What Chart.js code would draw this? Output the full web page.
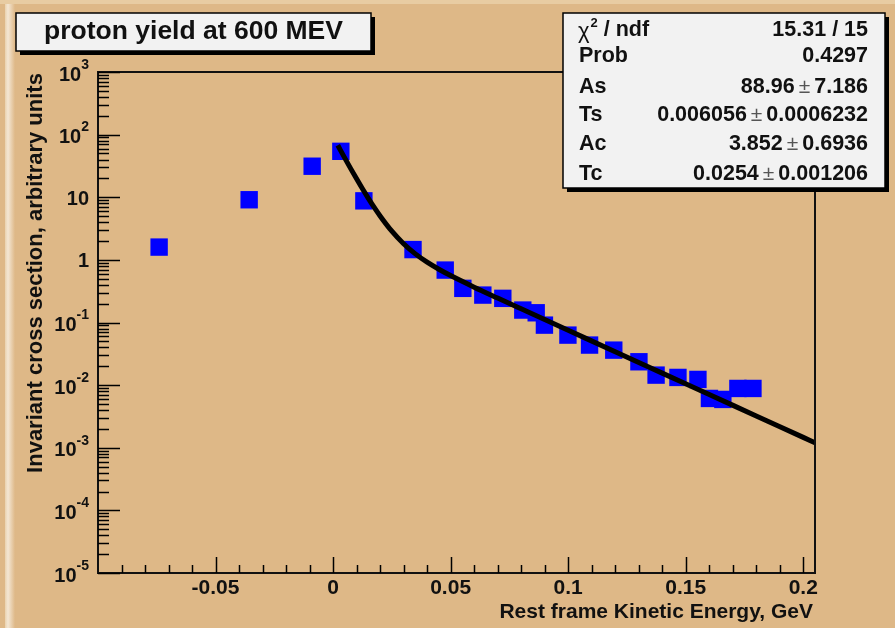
<!DOCTYPE html>
<html lang="en">
<head>
    <title>proton yield at 600 MEV</title>
    <meta charset="UTF-8">
    <script src="https://cdn.jsdelivr.net/npm/chart.js"></script>
    <style>
        body { margin: 0; background: #DEB887; }
        #wrap { width: 895px; height: 628px; }
    </style>
</head>
<body>
<div id="wrap"><canvas id="protonChart" width="895" height="628"></canvas></div>
<script>
    // measured points (GeV, arbitrary units)
    const energy = [-0.0740, -0.0357, -0.0089, 0.0033, 0.0131, 0.0340, 0.0477, 0.0552, 0.0637, 0.0722,
                    0.0807, 0.0864, 0.0899, 0.0999, 0.1091, 0.1194, 0.1301, 0.1374, 0.1467, 0.1552,
                    0.1601, 0.1658, 0.1722, 0.1786];
    const crossSection = [1.60, 9.12, 31.3, 54.1, 8.76, 1.46, 0.687, 0.351, 0.274, 0.243,
                          0.158, 0.143, 0.0908, 0.0629, 0.0436, 0.0362, 0.0236, 0.01445, 0.01327, 0.01233,
                          0.00613, 0.00591, 0.00885, 0.00885];

    // fit curve, points
    const fitEnergy = [0.002, 0.005, 0.0075, 0.01, 0.0125, 0.015, 0.0175, 0.02, 0.025, 0.03,
                       0.035, 0.04, 0.045, 0.05, 0.06, 0.07, 0.08, 0.09, 0.1, 0.12,
                       0.14, 0.16, 0.18, 0.2, 0.205];
    const fitValues = [67.5, 42.1, 28.65, 19.67, 13.64, 9.61, 6.88, 5.03, 2.87, 1.81,
                       1.246, 0.918, 0.708, 0.561, 0.367, 0.2456, 0.1653, 0.1115, 0.0752, 0.0342,
                       0.01556, 0.00708, 0.00322, 0.001465, 0.001203];

    // axis ticks
    const xTickValues = [-0.05, 0, 0.05, 0.1, 0.15, 0.2];
    const xTickLabels = ['-0.05', '0', '0.05', '0.1', '0.15', '0.2'];
    const yTickValues = [1e-5, 1e-4, 1e-3, 1e-2, 1e-1, 1, 10, 100, 1000];
    const yTickBase = ['10', '10', '10', '10', '10', '1', '10', '10', '10'];
    const yTickExp = ['-5', '-4', '-3', '-2', '-1', '', '', '2', '3'];

    // fit box
    const statNames = ['/ ndf', 'Prob', 'As', 'Ts', 'Ac', 'Tc'];
    const statValues = ['15.31 / 15', '0.4297', '88.96 ± 7.186', '0.006056 ± 0.0006232',
                        '3.852 ± 0.6936', '0.0254 ± 0.001206'];

    const chartTitle = 'proton yield at 600 MEV';
    const xTitle = 'Rest frame Kinetic Energy, GeV';
    const yTitle = 'Invariant cross section, arbitrary units';

    const FONT = '"Liberation Sans", Arial, sans-serif';

    function drawBox(ctx, x, y, w, h) {
        ctx.fillStyle = '#000';
        ctx.fillRect(x + 4, y + h, w, 4);
        ctx.fillRect(x + w, y + 4, 4, h);
        ctx.fillStyle = '#F2F2F2';
        ctx.fillRect(x, y, w, h);
        ctx.strokeStyle = '#000';
        ctx.lineWidth = 1.5;
        ctx.strokeRect(x, y, w, h);
    }

    const rootStyle = {
        id: 'rootStyle',
        beforeDraw(chart) {
            const ctx = chart.ctx;
            ctx.save();
            ctx.fillStyle = '#DEB887';
            ctx.fillRect(0, 0, chart.width, chart.height);
            ctx.fillStyle = '#E8CCA2';
            ctx.fillRect(0, 0, chart.width, 4);
            const g = ctx.createLinearGradient(5, 0, 15, 0);
            g.addColorStop(0, '#EAD2AE');
            g.addColorStop(0.3, '#F4E7D4');
            g.addColorStop(1, '#DEB887');
            ctx.fillStyle = g;
            ctx.fillRect(5, 4, 10, chart.height - 4);
            ctx.restore();
        },
        afterDraw(chart) {
            const ctx = chart.ctx;
            const a = chart.chartArea;
            const xs = chart.scales.x;
            const ys = chart.scales.y;
            ctx.save();

            // frame
            ctx.strokeStyle = '#111';
            ctx.lineWidth = 2;
            ctx.strokeRect(a.left, a.top, a.right - a.left, a.bottom - a.top);

            // ticks, drawn inward
            ctx.lineWidth = 1.5;
            ctx.strokeStyle = '#000';
            ctx.beginPath();
            for (let v = -9; v <= 20; v++) {
                const px = Math.round(xs.getPixelForValue(v / 100)) + 0.5;
                const len = (v % 5 === 0) ? 16 : 8;
                ctx.moveTo(px, a.bottom);
                ctx.lineTo(px, a.bottom - len);
            }
            for (let d = -5; d <= 3; d++) {
                const py = Math.round(ys.getPixelForValue(Math.pow(10, d))) + 0.5;
                ctx.moveTo(a.left, py);
                ctx.lineTo(a.left + 22, py);
                if (d < 3) {
                    for (let m = 2; m <= 9; m++) {
                        const pm = Math.round(ys.getPixelForValue(m * Math.pow(10, d))) + 0.5;
                        ctx.moveTo(a.left, pm);
                        ctx.lineTo(a.left + 11, pm);
                    }
                }
            }
            ctx.stroke();

            // tick labels
            ctx.fillStyle = '#111';
            ctx.textBaseline = 'middle';
            ctx.font = 'bold 21px ' + FONT;
            ctx.textAlign = 'center';
            xTickValues.forEach((v, i) => {
                ctx.fillText(xTickLabels[i], xs.getPixelForValue(v), a.bottom + 15);
            });
            ctx.textAlign = 'right';
            yTickValues.forEach((v, i) => {
                const py = ys.getPixelForValue(v);
                const right = 89;
                if (yTickExp[i] === '') {
                    ctx.font = 'bold 20px ' + FONT;
                    ctx.fillText(yTickBase[i], right, py + 2);
                } else {
                    ctx.font = 'bold 14px ' + FONT;
                    const ew = ctx.measureText(yTickExp[i]).width;
                    ctx.fillText(yTickExp[i], right, py - 7);
                    ctx.font = 'bold 20px ' + FONT;
                    ctx.fillText(yTickBase[i], right - ew, py + 3);
                }
            });

            // axis titles
            ctx.font = 'bold 21px ' + FONT;
            ctx.textAlign = 'right';
            ctx.fillText(xTitle, 813, 612);
            ctx.save();
            ctx.translate(36, 273);
            ctx.rotate(-Math.PI / 2);
            ctx.textAlign = 'center';
            ctx.font = 'bold 22px ' + FONT;
            ctx.fillText(yTitle, 0, 0);
            ctx.restore();

            // title box
            drawBox(ctx, 16, 13, 355, 38);
            ctx.fillStyle = '#111';
            ctx.textAlign = 'center';
            ctx.font = 'bold 26.5px ' + FONT;
            ctx.fillText(chartTitle, 193.5, 32);

            // fit statistics box
            drawBox(ctx, 563, 13, 322, 175);
            const rows = [30, 56, 87, 115, 144, 174];
            const sf = 'bold 21.5px ' + FONT;
            statNames.forEach((name, i) => {
                const y = rows[i];
                ctx.fillStyle = '#111';
                ctx.textAlign = 'left';
                if (i === 0) {
                    ctx.font = '22px ' + FONT;
                    ctx.fillText('χ', 578, y + 2);
                    const cw = ctx.measureText('χ').width;
                    ctx.font = 'bold 13px ' + FONT;
                    ctx.fillText('2', 578 + cw + 1, y - 7);
                    const sw = ctx.measureText('2').width;
                    ctx.font = sf;
                    ctx.fillText(' ' + name, 578 + cw + sw + 1, y);
                } else {
                    ctx.font = sf;
                    ctx.fillText(name, 579, y);
                }
                ctx.textAlign = 'right';
                const parts = statValues[i].split(' ± ');
                let x = 868;
                ctx.font = sf;
                if (parts.length === 2) {
                    ctx.fillText(parts[1], x, y);
                    x -= ctx.measureText(parts[1]).width + 4;
                    ctx.font = '21px ' + FONT;
                    ctx.fillStyle = '#555';
                    ctx.fillText('±', x, y);
                    x -= ctx.measureText('±').width + 4;
                    ctx.fillStyle = '#111';
                    ctx.font = sf;
                    ctx.fillText(parts[0], x, y);
                } else {
                    ctx.fillText(parts[0], x, y);
                }
            });
            ctx.restore();
        }
    };

    const data = {
        datasets: [
            {
                label: 'fit',
                data: fitEnergy.map((x, i) => ({ x: x, y: fitValues[i] })),
                showLine: true,
                borderColor: '#000',
                borderWidth: 5,
                pointRadius: 0,
                cubicInterpolationMode: 'monotone'
            },
            {
                label: 'proton yield',
                data: energy.map((x, i) => ({ x: x, y: crossSection[i] })),
                showLine: false,
                pointStyle: 'rect',
                pointRadius: 12.3,
                backgroundColor: '#0000FF',
                borderWidth: 0
            }
        ]
    };

    const config = {
        type: 'scatter',
        data: data,
        options: {
            responsive: false,
            animation: false,
            events: [],
            layout: { padding: { left: 98, top: 72, right: 80, bottom: 55 } },
            plugins: {
                legend: { display: false },
                tooltip: { enabled: false }
            },
            scales: {
                x: { type: 'linear', min: -0.1, max: 0.205, display: false },
                y: { type: 'logarithmic', min: 1e-5, max: 1e3, display: false }
            }
        },
        plugins: [rootStyle]
    };

    const protonChart = new Chart(document.getElementById('protonChart'), config);
</script>
</body>
</html>
